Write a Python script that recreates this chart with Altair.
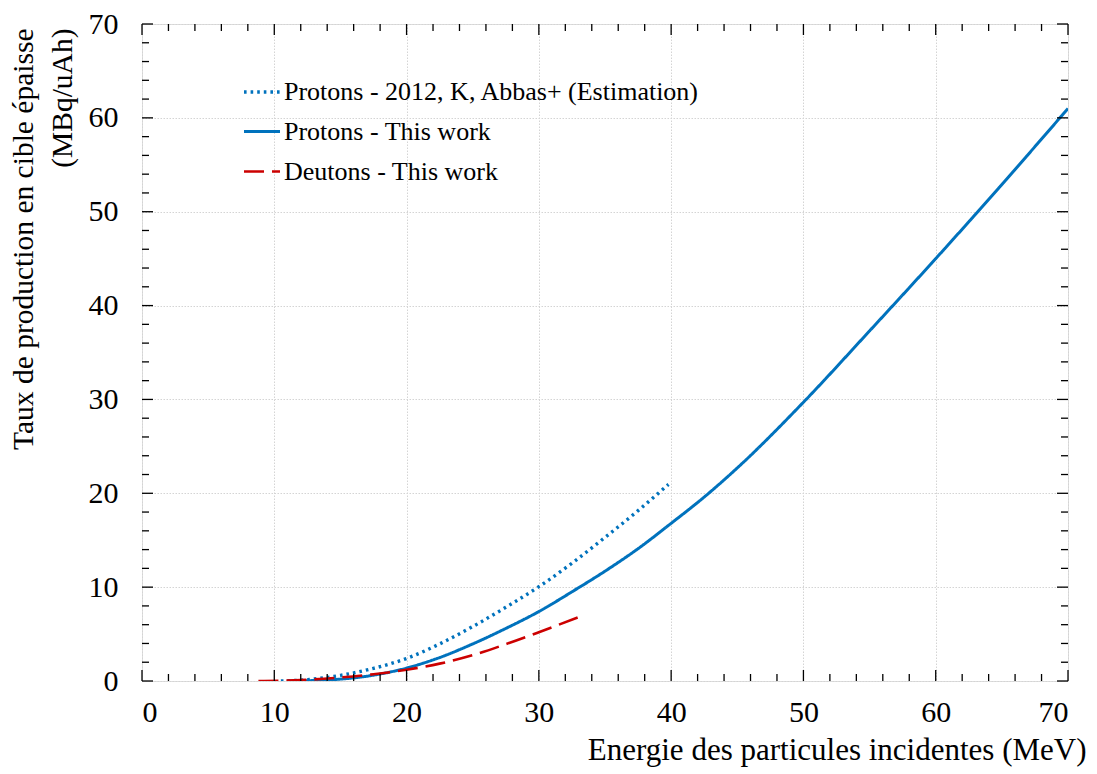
import altair as alt
import pandas as pd

# ---- data ----
series_names = [
    "Protons - 2012, K, Abbas+ (Estimation)",
    "Protons - This work",
    "Deutons - This work",
]

abbas_x = [10.5, 12.5, 15, 17.5, 20, 22.5, 25, 27.5, 30, 32.5, 35, 37.5, 39.8]
abbas_y = [0, 0.15, 0.6, 1.35, 2.4, 3.95, 5.8, 7.85, 10.05, 12.55, 15.3, 18.15, 20.95]

protons_x = [11, 12.5, 15, 17.5, 20, 22.5, 25, 27.5, 30, 32.5, 35, 37.5, 40, 42.5, 45, 50, 55, 60, 65, 70]
protons_y = [0, 0.03, 0.2, 0.62, 1.38, 2.5, 3.95, 5.6, 7.4, 9.5, 11.7, 14.1, 16.8, 19.6, 22.7, 29.7, 37.3, 45.0, 52.9, 61.0]

deutons_x = [8.8, 12, 15, 17.5, 20, 22.5, 25, 27.5, 30, 33]
deutons_y = [0, 0.1, 0.38, 0.72, 1.2, 1.85, 2.75, 3.92, 5.2, 6.8]

major_ticks = [0, 10, 20, 30, 40, 50, 60, 70]
minor_ticks = [v for v in range(0, 71, 2) if v % 10 != 0]

x_title = "Energie des particules incidentes (MeV)"
y_title = ["Taux de production en cible épaisse", "(MBq/uAh)"]

# ---- build tables ----
rows = []
for name, xs, ys in [
    (series_names[0], abbas_x, abbas_y),
    (series_names[1], protons_x, protons_y),
    (series_names[2], deutons_x, deutons_y),
]:
    for xv, yv in zip(xs, ys):
        rows.append({"series": name, "E": xv, "Y": yv})
df = pd.DataFrame(rows)

major_df = pd.DataFrame({"v": major_ticks})
minor_df = pd.DataFrame({"v": minor_ticks})

W, H = 926, 657
FONT = "Liberation Serif"

xscale = alt.Scale(domain=[0, 70], nice=False, zero=False)
yscale = alt.Scale(domain=[0, 70], nice=False, zero=False)

xaxis = alt.Axis(
    values=major_ticks, format="d", grid=True, ticks=False, domain=False,
    labelFontSize=30, labelFont=FONT, labelColor="black", labelPadding=16,
    gridColor="#d4d4d4", gridDash=[1.5, 1.5], gridWidth=1,
    title=x_title, titleFont=FONT, titleFontSize=31, titleFontWeight="normal",
    titleColor="black", titleAlign="right", titleX=944, titleY=78,
    titleBaseline="alphabetic",
)
yaxis = alt.Axis(
    values=major_ticks, format="d", grid=True, ticks=False, domain=False,
    labelFontSize=30, labelFont=FONT, labelColor="black", labelPadding=24,
    gridColor="#d4d4d4", gridDash=[1.5, 1.5], gridWidth=1,
    title=y_title, titleFont=FONT, titleFontSize=29.5, titleFontWeight="normal",
    titleColor="black", titleAngle=270, titleAlign="right",
    titleBaseline="alphabetic", titleX=-110, titleY=4, titleLineHeight=39,
)

lines = alt.Chart(df).mark_line(interpolate="monotone", clip=True).encode(
    x=alt.X("E:Q", scale=xscale, axis=xaxis),
    y=alt.Y("Y:Q", scale=yscale, axis=yaxis),
    color=alt.Color(
        "series:N",
        scale=alt.Scale(domain=series_names, range=["#0072BD", "#0072BD", "#CC0000"]),
        legend=alt.Legend(
            title=None, orient="none", legendX=100, legendY=48,
            symbolType="stroke", symbolSize=1296, symbolStrokeWidth=2.6,
            labelFont=FONT, labelFontSize=26, labelColor="black",
            labelLimit=800, labelOffset=2, rowPadding=7, padding=0,
        ),
    ),
    strokeDash=alt.StrokeDash(
        "series:N",
        scale=alt.Scale(domain=series_names, range=[[2.6, 4.0], [1, 0], [20, 8]]),
        legend=None,
    ),
    strokeWidth=alt.StrokeWidth(
        "series:N",
        scale=alt.Scale(domain=series_names, range=[3.4, 2.6, 2.6]),
        legend=None,
    ),
    order="E:Q",
)

def xticks(data, size, top):
    if top:
        return alt.Chart(data).mark_rule(color="black", strokeWidth=1.3).encode(
            x=alt.X("v:Q", scale=xscale), y=alt.value(0), y2=alt.value(size))
    return alt.Chart(data).mark_rule(color="black", strokeWidth=1.3).encode(
        x=alt.X("v:Q", scale=xscale), y=alt.value(H), y2=alt.value(H - size))

def yticks(data, size, right):
    if right:
        return alt.Chart(data).mark_rule(color="black", strokeWidth=1.3).encode(
            y=alt.Y("v:Q", scale=yscale), x=alt.value(W), x2=alt.value(W - size))
    return alt.Chart(data).mark_rule(color="black", strokeWidth=1.3).encode(
        y=alt.Y("v:Q", scale=yscale), x=alt.value(0), x2=alt.value(size))

tick_layers = [
    xticks(major_df, 11, False), xticks(minor_df, 7, False),
    xticks(major_df, 11, True), xticks(minor_df, 7, True),
    yticks(major_df, 11, False), yticks(minor_df, 7, False),
    yticks(major_df, 11, True), yticks(minor_df, 7, True),
]

chart = alt.layer(lines, *tick_layers).properties(
    width=W, height=H,
    autosize=alt.AutoSizeParams(type="none"),
    padding={"left": 134, "top": 16, "right": 20, "bottom": 86},
).configure_view(
    stroke="black", strokeWidth=2
).configure(background="white")

chart.save("out.html", embed_options={"renderer": "svg", "actions": False})
